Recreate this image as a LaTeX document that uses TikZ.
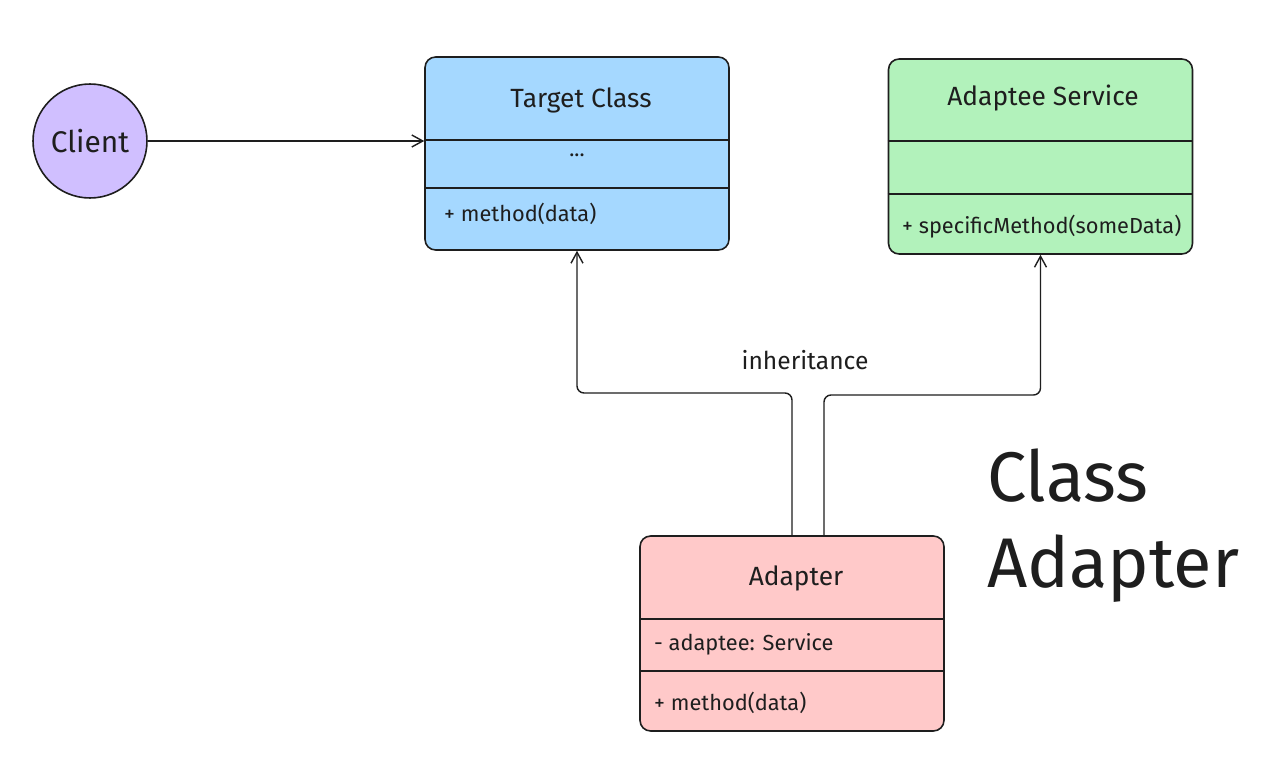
\documentclass[tikz,border=0pt]{standalone}
\usepackage{fontspec}
\setmainfont{Fira Sans}
\usetikzlibrary{arrows.meta}

\begin{document}
\begin{tikzpicture}[x=0.02cm, y=-0.02cm,
  ink/.style={draw=inkgray, line width=0.9pt},
  classbox/.style={ink, rounded corners=6pt, minimum width=6.08cm, inner sep=0pt},
  classtitle/.style={text=inkgray, font=\fontsize{15}{18}\selectfont},
  member/.style={text=inkgray, font=\fontsize{12.4}{14}\selectfont, anchor=west},
  arrow/.style={draw=inkgray, line width=0.8pt, rounded corners=4pt, -{Straight Barb[length=2.2mm, width=2.4mm]}}]
\definecolor{inkgray}{HTML}{1E1E1E}
\definecolor{clientviolet}{HTML}{D0BFFF}
\definecolor{targetblue}{HTML}{A5D8FF}
\definecolor{adapteegreen}{HTML}{B2F2BB}
\definecolor{adapterpink}{HTML}{FFC9C9}
\useasboundingbox[fill=white] (0,0) rectangle (1265,771);
\node[ink, circle, fill=clientviolet, minimum size=2.28cm, inner sep=0pt, text=inkgray, font=\fontsize{17}{20}\selectfont] (client) at (90,141) {Client};
\node[classbox, fill=targetblue, minimum height=3.86cm] (target) at (577,153.5) {};
\node[classtitle] (targettitle) at (581,100) {Target Class};
\draw[ink] (target.west |- 0,140) -- (target.east |- 0,140);
\node[text=inkgray, font=\fontsize{12}{14}\selectfont] (targetattr) at (577,155) {...};
\draw[ink] (target.west |- 0,188) -- (target.east |- 0,188);
\node[member] (targetop) at (438,214) {+ method(data)};
\node[classbox, fill=adapteegreen, minimum height=3.90cm] (adaptee) at (1040.5,156.5) {};
\node[classtitle] (adapteetitle) at (1043,98) {Adaptee Service};
\draw[ink] (adaptee.west |- 0,141) -- (adaptee.east |- 0,141);
\draw[ink] (adaptee.west |- 0,194) -- (adaptee.east |- 0,194);
\node[member] (adapteeop) at (896,227) {+ specificMethod(someData)};
\node[classbox, fill=adapterpink, minimum height=3.90cm] (adapter) at (792,633.5) {};
\node[classtitle] (adaptertitle) at (796,578) {Adapter};
\draw[ink] (adapter.west |- 0,619) -- (adapter.east |- 0,619);
\node[member] (adapterattr) at (648,644) {- adaptee: Service};
\draw[ink] (adapter.west |- 0,671) -- (adapter.east |- 0,671);
\node[member] (adapterop) at (648,703) {+ method(data)};
\draw[arrow] (client) -- (target.west |- client);
\draw[arrow] (adapter.north) -- (adapter.north |- 0,393) -| (target.south);
\draw[arrow] ([xshift=0.64cm]adapter.north) -- ([xshift=0.64cm]adapter.north |- 0,395) -| (adaptee.south);
\node[text=inkgray, font=\fontsize{14}{17}\selectfont] (inheritlabel) at (805,360) {inheritance};
\node[text=inkgray, font=\fontsize{40}{49}\selectfont, align=left, anchor=west] (caption) at (981,526) {Class\\Adapter};
\end{tikzpicture}
\end{document}
